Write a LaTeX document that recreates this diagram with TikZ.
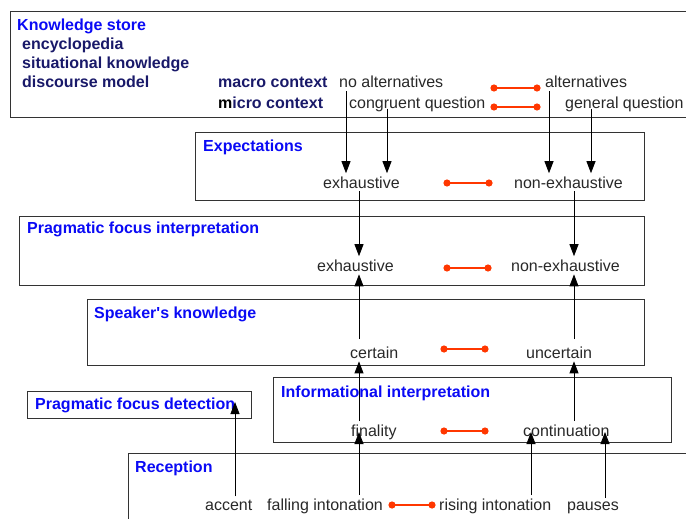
\documentclass[tikz,border=0pt]{standalone}
\usepackage{fontspec}
\setmainfont{Liberation Sans}[Ligatures=TeXOff]
\usetikzlibrary{arrows.meta}
\definecolor{ttlblue}{RGB}{10,10,245}
\definecolor{navy}{RGB}{25,25,105}
\definecolor{oppred}{RGB}{255,55,0}
\definecolor{txtgray}{RGB}{40,40,40}

\begin{document}
\begin{tikzpicture}[x=1pt, y=-1pt,
  every node/.style={font=\fontsize{16}{19}\selectfont, inner xsep=0pt, inner ysep=3pt, anchor=base west, text=txtgray},
  layer/.style={draw=black!80, line width=0.9pt},
  ttl/.style={font=\fontsize{16}{19}\selectfont\bfseries, text=ttlblue},
  src/.style={font=\fontsize{16}{19}\selectfont\bfseries, text=navy},
  arr/.style={draw=black, line width=0.8pt, -{Triangle[width=9pt,length=12pt]}},
  opp/.style={draw=oppred, line width=2.8pt}]
  \useasboundingbox (0,0) rectangle (686,519);
  \clip (0,0) rectangle (686,519);

  % layers
  \draw[layer] (10,11) rectangle (700,117);
  \draw[layer] (195,132) rectangle (644,200);
  \draw[layer] (19,216) rectangle (644,285);
  \draw[layer] (87,299) rectangle (644,365);
  \draw[layer] (273,377) rectangle (671,442);
  \draw[layer] (27,391) rectangle (251,418);
  \draw[layer] (128,453) rectangle (700,530);

  % knowledge store
  \node[ttl] (kstore) at (17,31) {Knowledge store};
  \node[src] (encyc) at (22,50) {encyclopedia};
  \node[src] (situ) at (22,69) {situational knowledge};
  \node[src] (disc) at (22,88) {discourse model};
  \node[src] (macro) at (218,88) {macro context};
  \node[src] (micro) at (218,108) {{\color{black}m}icro context};
  \node (noalt) at (339,88) {no alternatives};
  \node (congr) at (349,108) {congruent question};
  \node (alt) at (545,88) {alternatives};
  \node (genq) at (565,108) {general question};

  % expectations
  \node[ttl] (expect) at (203,151) {Expectations};
  \node (exE) at (323,188) {exhaustive};
  \node (nonexE) at (514,188) {non-exhaustive};

  % pragmatic focus interpretation
  \node[ttl] (pfi) at (27,233) {Pragmatic focus interpretation};
  \node (exP) at (317,271) {exhaustive};
  \node (nonexP) at (511,271) {non-exhaustive};

  % speaker's knowledge
  \node[ttl] (spk) at (94,318) {Speaker's knowledge};
  \node (certain) at (350,358) {certain};
  \node (uncert) at (526,358) {uncertain};

  % informational interpretation
  \node[ttl] (info) at (281,397) {Informational interpretation};
  \node (final) at (351,436) {finality};
  \node (contin) at (523,436) {continuation};

  \node[ttl] (pfd) at (35,409) {Pragmatic focus detection};

  % reception
  \node[ttl] (recep) at (135,472) {Reception};
  \node (accent) at (205,510) {accent};
  \node (fall) at (267,510) {falling intonation};
  \node (rise) at (439,510) {rising intonation};
  \node (pauses) at (567,510) {pauses};

  % oppositions
  \foreach \xa/\xb/\yy in {494/537/88, 494/537/107, 447/489/183, 447/488/268,
                           444/485/349, 444/485/431, 392/432/505} {
    \draw[opp] (\xa,\yy) -- (\xb,\yy);
    \fill[oppred] (\xa,\yy) circle (3.6pt) (\xb,\yy) circle (3.6pt);
  }

  % context to expectations
  \draw[arr] (noalt.south -| 346,0) -- (exE.north -| 346,0);
  \draw[arr] ([yshift=6pt]congr.south -| 387,0) -- (exE.north -| 387,0);
  \draw[arr] (alt.south -| 549,0) -- (nonexE.north -| 549,0);
  \draw[arr] ([yshift=6pt]genq.south -| 591,0) -- (nonexE.north -| 591,0);
  % expectations to interpretation
  \draw[arr] (exE.south -| 359,0) -- (exP.north -| 359,0);
  \draw[arr] (nonexE.south -| 574,0) -- (nonexP.north -| 574,0);
  % bottom-up
  \draw[arr] ([yshift=4pt]certain.north -| 359,0) -- (exP.south -| 359,0);
  \draw[arr] ([yshift=4pt]uncert.north -| 574,0) -- (nonexP.south -| 574,0);
  \draw[arr] (final.north -| 359,0) -- (certain.south -| 359,0);
  \draw[arr] (contin.north -| 574,0) -- (uncert.south -| 574,0);
  \draw[arr] (fall.north -| 359,0) -- ([yshift=4pt]final.base -| 359,0);
  \draw[arr] (rise.north -| 531,0) -- ([yshift=4pt]contin.base -| 531,0);
  \draw[arr] (pauses.north -| 605,0) -- ([yshift=4pt]contin.base -| 605,0);
  \draw[arr] (accent.north -| 235,0) -- ([yshift=7pt]pfd.base -| 235,0);
\end{tikzpicture}
\end{document}
